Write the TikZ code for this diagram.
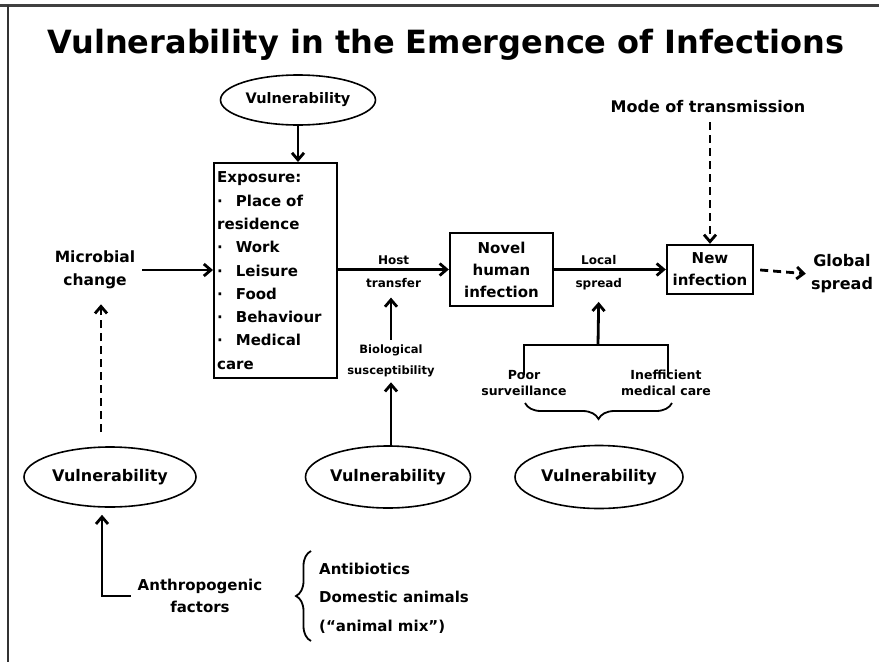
\documentclass[tikz,border=0pt]{standalone}
\usepackage{fontspec}
\setmainfont{DejaVu Sans}
\usetikzlibrary{shapes.geometric,arrows.meta,decorations.pathreplacing,calc}

\newcommand{\expitem}{\textperiodcentered\hspace{13pt}}

\begin{document}
\begin{tikzpicture}[x=1pt,y=-1pt,
	lbl/.style={font=\fontsize{15}{22}\selectfont\bfseries,align=center,inner sep=1pt},
	small/.style={font=\fontsize{12}{14}\selectfont\bfseries,align=center,inner sep=1pt},
	mid/.style={font=\fontsize{12.5}{16}\selectfont\bfseries,align=center,inner sep=1pt},
	vul/.style={draw=black,ellipse,line width=1.6pt,inner sep=0pt,font=\fontsize{16}{18}\selectfont\bfseries},
	box/.style={draw=black,line width=2.4pt,align=center,inner sep=1pt,font=\fontsize{15}{22}\selectfont\bfseries},
	arr/.style={->,>={Straight Barb[length=7pt,width=12pt]},draw=black,line width=2.8pt},
	darr/.style={arr,dash pattern=on 8pt off 5pt}]

	\useasboundingbox (0,0) rectangle (879,662);
	\fill[white] (0,0) rectangle (879,662);
	\draw[line width=3pt,black!75] (0,5) -- (879,5);
	\draw[line width=2.5pt,black!80] (8,5) -- (8,662);

	\node[font=\fontsize{32}{36}\selectfont\bfseries] (title) at (446,45) {Vulnerability in the Emergence of Infections};

	% top row
	\node[vul,minimum width=155,minimum height=50,font=\fontsize{14.5}{17}\selectfont\bfseries] (vulTop) at (298,100) {Vulnerability};
	\node[box,anchor=north west,text width=117,minimum height=215,align=left,inner sep=3pt,font=\fontsize{15}{23.3}\selectfont\bfseries] (expo) at (213,162)
		{Exposure:\\ \expitem Place of\\ residence\\ \expitem Work\\ \expitem Leisure\\ \expitem Food\\ \expitem Behaviour\\ \expitem Medical\\ care};
	\node[lbl,font=\fontsize{15.5}{23}\selectfont\bfseries] (microbe) at (95,270) {Microbial\\change};
	\node[box,minimum width=103,minimum height=73] (novel) at (501.5,269.5) {Novel\\human\\infection};
	\node[box,minimum width=86,minimum height=49] (newinf) at (710,269.5) {New\\infection};
	\node[lbl,font=\fontsize{16}{20}\selectfont\bfseries] (mode) at (708,107) {Mode of transmission};
	\node[lbl,font=\fontsize{16}{23}\selectfont\bfseries] (globalsp) at (842,274) {Global\\spread};

	\path[arr] (vulTop.south) -- (vulTop.south |- expo.north);
	\path[arr,shorten <=6pt] (microbe.east) -- (expo.west |- microbe.east);
	\path[arr] (expo.east |- novel.west) -- node[small,above=2pt] (host) {Host} node[small,below=6pt] (transfer) {transfer} (novel.west);
	\path[arr] (novel.east) -- node[small,pos=0.4,above=2pt] (local) {Local} node[small,pos=0.4,below=6pt] (spread) {spread} (newinf.west);
	\path[darr,shorten <=8pt] (mode.south -| newinf.north) -- (newinf.north);
	\path[darr,shorten <=6pt,shorten >=4pt] (newinf.east) -- (globalsp.west);

	% susceptibility
	\node[mid,font=\fontsize{11.5}{21}\selectfont\bfseries] (biosusc) at (391,361) {Biological\\susceptibility};
	\node[vul,minimum width=165,minimum height=62] (vulMid) at (388,477) {Vulnerability};
	\path[arr,shorten <=4pt,shorten >=8pt] (biosusc.north) -- (biosusc.north |- transfer.south);
	\path[arr,shorten >=4pt] (vulMid.north -| biosusc.south) -- (biosusc.south);

	% local spread
	\node[mid] (poor) at (524,383) {Poor\\surveillance};
	\node[mid] (ineff) at (666,383) {Inefficient\\medical care};
	\coordinate (br) at (598,345);
	\draw[line width=2.4pt] ($(poor.north)+(0,6)$) |- (br) -| ($(ineff.north)+(2,6)$);
	\path[arr,shorten >=10pt] (br) -- (spread.south);
	\draw[decorate,decoration={brace,amplitude=16pt},line width=1.8pt] (672,403) -- (525,403);
	\node[vul,minimum width=168,minimum height=63] (vulRight) at (599,477) {Vulnerability};

	% anthropogenic
	\node[vul,minimum width=172,minimum height=60] (vulLeft) at (110,477) {Vulnerability};
	\path[darr,shorten <=14pt,shorten >=14pt] ($(vulLeft.north)+(-9,0)$) -- ($(microbe.south)+(6,0)$);
	\node[lbl] (anthro) at (200,596) {Anthropogenic\\factors};
	\path[arr,shorten <=6pt,shorten >=7pt] (anthro.west) -| ($(vulLeft.south)+(-8,0)$);
	\draw[decorate,decoration={brace,amplitude=15pt},line width=1.8pt] (311,641) -- (311,551);
	\node[lbl,font=\fontsize{15}{28.5}\selectfont\bfseries,align=left,anchor=west] (facts) at (318,598)
		{Antibiotics\\Domestic animals\\(“animal mix”)};

\end{tikzpicture}
\end{document}
